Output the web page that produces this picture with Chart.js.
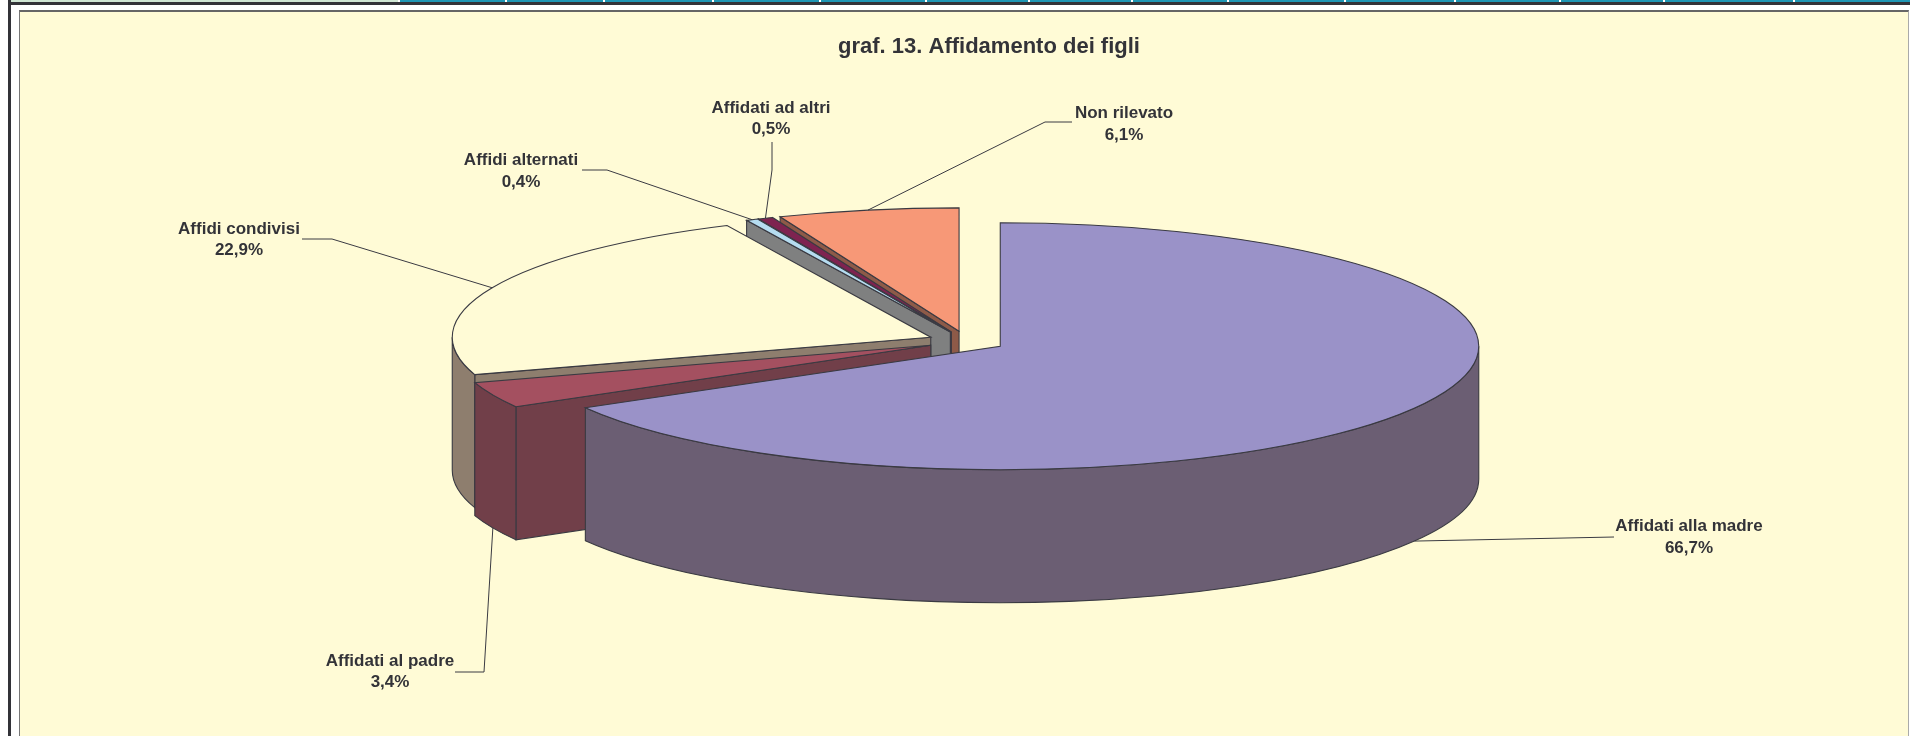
<!DOCTYPE html>
<html>
<head>
<meta charset="utf-8">
<title>graf. 13. Affidamento dei figli</title>
<script src="https://cdn.jsdelivr.net/npm/chart.js@4"></script>
<style>
    html, body { margin: 0; padding: 0; background: #fff; overflow: hidden; }
    #page { position: relative; width: 1910px; height: 736px; overflow: hidden; }
    #left-rule { position: absolute; left: 8px; top: 0; width: 3px; height: 736px; background: #333338; }
    #strip-rule { position: absolute; left: 8px; right: 0; top: 2px; height: 3px; background: #333338; }
    .strip-cell { position: absolute; top: 0; height: 2px; background: #1e96b4; }
    .strip-cell.first { background: #cfe6d3; }
    #panel {
        position: absolute; left: 19px; top: 10px; width: 1890px; height: 726px; box-sizing: border-box;
        background: #fffbd6; border-top: 2px solid #666; border-left: 1px solid #777; border-right: 1px solid #aaa;
    }
    #chart { position: absolute; left: 0; top: 0; }
</style>
</head>
<body>
<div id="page">
    <div id="strip-rule"></div>
    <div id="left-rule"></div>
    <div id="panel"></div>
    <canvas id="chart" width="1910" height="736"></canvas>
</div>

<script>
    // data
    const categories = ['Affidati alla madre', 'Affidati al padre', 'Affidi condivisi', 'Affidi alternati', 'Affidati ad altri', 'Non rilevato'];
    const values = [66.7, 3.4, 22.9, 0.4, 0.5, 6.1];
    const chart_title = 'graf. 13. Affidamento dei figli';

    // colours of each slice: top face, side walls
    const top_colors = ['#9a92c8', '#a45060', '#fffbd6', '#b5dcf0', '#7e2350', '#f79877'];
    const side_colors = ['#6b5e73', '#713f49', '#8e7e6e', '#7f8080', '#4a1530', '#8e5a48'];

    // centre of each label, then leader line points running towards the slice
    const label_centers = [[1689, 526.5], [390, 661], [239, 229], [521, 160.5], [771, 108], [1124, 113.5]];
    const leader_points = [
        [[1614, 537]],
        [[455, 672], [484, 672]],
        [[302, 239], [332, 239]],
        [[582, 170], [607, 170]],
        [[772, 142], [772, 170]],
        [[1072, 122], [1045, 122]]
    ];

    // 3d look of the pie
    const squash = 0.258;
    const depth = 133;
    const explode = 39;
    const pie_shift_x = -22.5;
    const line_color = '#3a3a42';
    const text_color = '#333338';

    // top strip of the table behind the chart
    const strip_edges = [11, 398, 505, 603, 712, 819, 925, 1028, 1131, 1227, 1344, 1454, 1559, 1663, 1793, 1910];
    strip_edges.slice(0, -1).forEach(function(left, i) {
        let cell = document.createElement('div');
        cell.className = i == 0 ? 'strip-cell first' : 'strip-cell';
        cell.style.left = (i == 0 ? left : left + 2) + 'px';
        cell.style.width = (strip_edges[i + 1] - left - (i == 0 ? 0 : 2)) + 'px';
        document.getElementById('page').insertBefore(cell, document.getElementById('strip-rule'));
    });

    function slice_geometry(arc) {
        let mid = (arc.startAngle + arc.endAngle) / 2;
        return {
            cy: arc.y,
            dx: pie_shift_x + Math.cos(mid) * explode,
            dy: Math.sin(mid) * explode,
            x: arc.x + pie_shift_x + Math.cos(mid) * explode,
            y: arc.y + Math.sin(mid) * explode * squash,
            r: arc.outerRadius,
            start: arc.startAngle,
            end: arc.endAngle,
            mid: mid
        };
    }

    function rim_point(g, angle) {
        return [g.x + Math.cos(angle) * g.r, g.y + Math.sin(angle) * g.r * squash];
    }

    function paint(ctx, fill) {
        ctx.fillStyle = fill;
        ctx.fill();
        ctx.strokeStyle = line_color;
        ctx.lineWidth = 1.1;
        ctx.stroke();
    }

    function draw_radial_face(ctx, g, angle, fill) {
        let p = rim_point(g, angle);
        ctx.beginPath();
        ctx.moveTo(g.x, g.y);
        ctx.lineTo(p[0], p[1]);
        ctx.lineTo(p[0], p[1] + depth);
        ctx.lineTo(g.x, g.y + depth);
        ctx.closePath();
        paint(ctx, fill);
    }

    function draw_outer_wall(ctx, g, fill) {
        // only the part of the rim that looks at the viewer
        let from = Math.max(g.start, 0);
        let to = Math.min(g.end, Math.PI);
        if (to <= from) return;
        ctx.beginPath();
        ctx.ellipse(g.x, g.y, g.r, g.r * squash, 0, from, to);
        ctx.ellipse(g.x, g.y + depth, g.r, g.r * squash, 0, to, from, true);
        ctx.closePath();
        paint(ctx, fill);
    }

    const pie_3d = {
        id: 'pie_3d',
        beforeDatasetsDraw(chart) {
            let ctx = chart.ctx;
            let arcs = chart.getDatasetMeta(0).data;

            // back slices first, the big one last
            for (let i = arcs.length - 1; i >= 0; i--) {
                let arc = arcs[i];
                let g = slice_geometry(arc);

                // cut faces, only those turned to the viewer
                if (Math.cos(g.start) < -0.001) draw_radial_face(ctx, g, g.start, side_colors[i]);
                if (Math.cos(g.end) > 0.001) draw_radial_face(ctx, g, g.end, side_colors[i]);
                draw_outer_wall(ctx, g, side_colors[i]);

                // top face is the library's own arc, flattened and pulled out
                ctx.save();
                ctx.translate(0, g.cy);
                ctx.scale(1, squash);
                ctx.translate(g.dx, g.dy - g.cy);
                arc.draw(ctx);
                ctx.restore();

                ctx.beginPath();
                ctx.moveTo(g.x, g.y);
                ctx.ellipse(g.x, g.y, g.r, g.r * squash, 0, g.start, g.end);
                ctx.closePath();
                ctx.strokeStyle = line_color;
                ctx.lineWidth = 1.1;
                ctx.stroke();
            }
            return false;
        },
        afterDraw(chart) {
            let ctx = chart.ctx;
            let arcs = chart.getDatasetMeta(0).data;

            arcs.forEach(function(arc, i) {
                let g = slice_geometry(arc);

                // leader line ends on the rim in the middle of the slice
                let end = rim_point(g, g.mid);
                if (Math.sin(g.mid) > 0) end[1] += depth;
                ctx.beginPath();
                leader_points[i].forEach(function(p, n) {
                    if (n == 0) ctx.moveTo(p[0], p[1]);
                    else ctx.lineTo(p[0], p[1]);
                });
                ctx.lineTo(end[0], end[1]);
                ctx.strokeStyle = line_color;
                ctx.lineWidth = 1;
                ctx.stroke();

                // label
                ctx.fillStyle = text_color;
                ctx.font = 'bold 17px "Liberation Sans", Arial, sans-serif';
                ctx.textAlign = 'center';
                ctx.textBaseline = 'middle';
                let c = label_centers[i];
                ctx.fillText(categories[i], c[0], c[1]);
                ctx.fillText(values[i].toFixed(1).replace('.', ',') + '%', c[0], c[1] + 21.5);
            });
        }
    };

    new Chart(document.getElementById('chart'), {
        type: 'pie',
        data: {
            labels: categories,
            datasets: [{
                data: values,
                backgroundColor: top_colors,
                borderWidth: 0,
                clip: false
            }]
        },
        options: {
            responsive: false,
            animation: false,
            radius: 478.5,
            events: [],
            layout: { padding: { left: 68, right: 0, top: 0, bottom: 114 } },
            plugins: {
                legend: { display: false },
                tooltip: { enabled: false },
                title: {
                    display: true,
                    text: chart_title,
                    color: text_color,
                    font: { family: '"Liberation Sans", Arial, sans-serif', size: 22, weight: 'bold' },
                    padding: { top: 34, bottom: 0 }
                }
            }
        },
        plugins: [pie_3d]
    });
</script>
</body>
</html>
